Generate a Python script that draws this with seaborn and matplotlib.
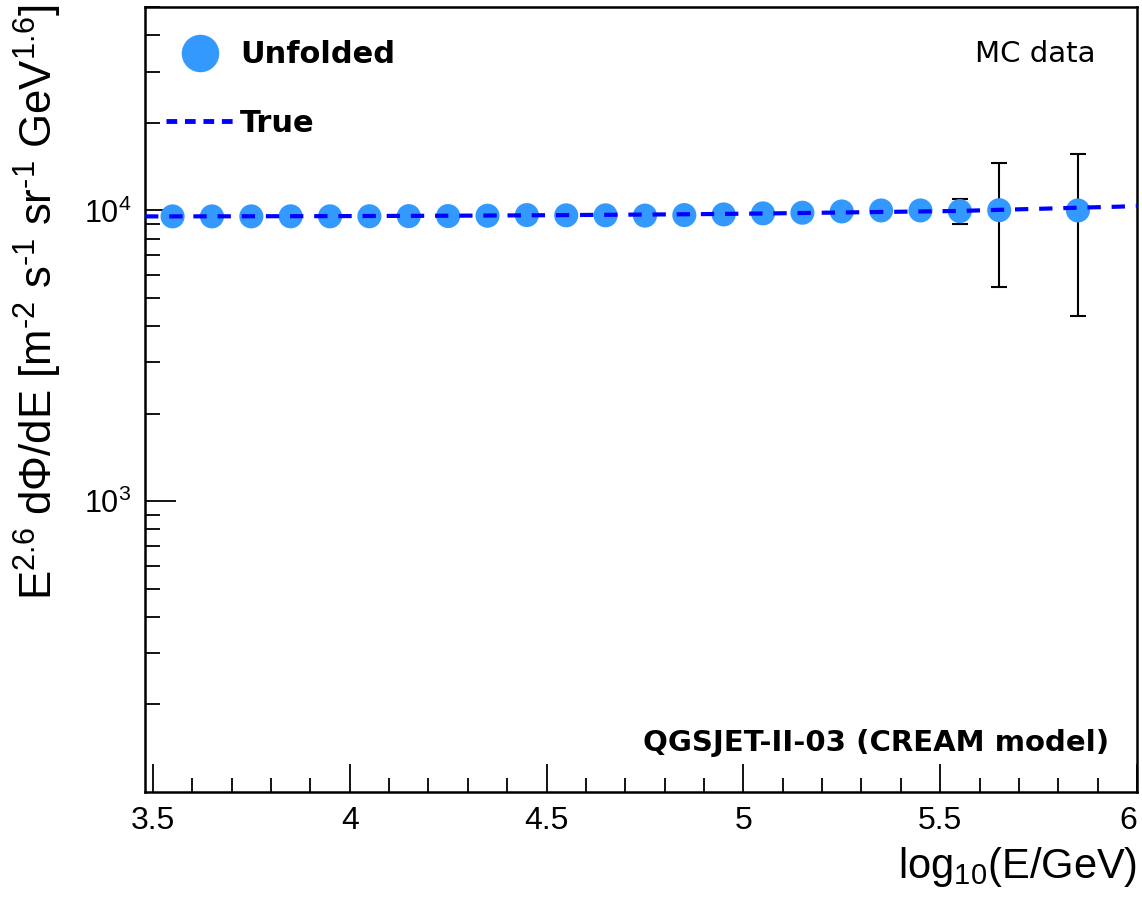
import numpy as np
import pandas as pd
import matplotlib
matplotlib.use("Agg")
import matplotlib.pyplot as plt
from matplotlib.lines import Line2D
from matplotlib.ticker import FixedLocator, NullFormatter, LogLocator
import seaborn as sns

# ---- data ----
unf_x = [3.55, 3.65, 3.75, 3.85, 3.95, 4.05, 4.15, 4.25, 4.35, 4.45, 4.55,
         4.65, 4.75, 4.85, 4.95, 5.05, 5.15, 5.25, 5.35, 5.45, 5.55, 5.65, 5.85]
unf_y = [9540, 9540, 9540, 9545, 9545, 9550, 9560, 9565, 9590, 9640, 9620,
         9620, 9600, 9640, 9690, 9770, 9820, 9920, 10000, 10000, 9950, 10020, 10000]
unf_err = [60, 60, 60, 60, 60, 60, 60, 60, 70, 70, 80,
           80, 90, 90, 100, 120, 150, 200, 260, 350, 990, 4580, 5680]

true_x = [3.48, 3.55, 3.65, 3.75, 3.85, 3.95, 4.05, 4.15, 4.25, 4.35, 4.45, 4.55,
          4.65, 4.75, 4.85, 4.95, 5.05, 5.15, 5.25, 5.35, 5.45, 5.55, 5.65,
          5.75, 5.85, 5.95, 6.0]
true_y = [9540, 9540, 9545, 9550, 9555, 9560, 9570, 9580, 9590, 9605, 9620, 9640,
          9660, 9680, 9700, 9730, 9760, 9800, 9840, 9880, 9920, 9960, 10050,
          10130, 10220, 10300, 10360]

x_ticks = [3.5, 4.0, 4.5, 5.0, 5.5, 6.0]
x_tick_labels = ["3.5", "4", "4.5", "5", "5.5", "6"]
y_ticks = [1e3, 1e4]
y_tick_labels = [r"$10^{3}$", r"$10^{4}$"]

df_unf = pd.DataFrame({"x": unf_x, "y": unf_y, "err": unf_err})
df_true = pd.DataFrame({"x": true_x, "y": true_y})

# ---- style ----
sns.set_style("ticks")
plt.rcParams["font.family"] = ["Liberation Sans", "DejaVu Sans"]
plt.rcParams["mathtext.fontset"] = "custom"
plt.rcParams["mathtext.rm"] = "Liberation Sans"
plt.rcParams["mathtext.it"] = "Liberation Sans"
plt.rcParams["mathtext.sf"] = "Liberation Sans"
for k in ["text.color", "axes.labelcolor", "xtick.color", "ytick.color", "axes.edgecolor"]:
    plt.rcParams[k] = "black"

fig = plt.figure(figsize=(11.42, 9.0), dpi=100)
ax = fig.add_axes([0.127, 0.12, 0.8686, 0.872])

marker_col = "#3399ff"
line_col = "#0000ff"

# True line
sns.lineplot(data=df_true, x="x", y="y", ax=ax, color=line_col, lw=3.0,
             linestyle=(0, (3.2, 2.6)), zorder=3)
# error bars
ax.errorbar(df_unf["x"], df_unf["y"], yerr=df_unf["err"], fmt="none",
            ecolor="black", elinewidth=1.5, capsize=6, capthick=1.5, zorder=2)
# unfolded points
sns.scatterplot(data=df_unf, x="x", y="y", ax=ax, color=marker_col, s=300,
                edgecolor="none", zorder=2.5)

ax.set_yscale("log")
ax.set_xlim(3.48, 6.0)
ax.set_ylim(100, 5e4)

ax.set_xticks(x_ticks)
ax.set_xticklabels(x_tick_labels)
ax.xaxis.set_minor_locator(FixedLocator(np.arange(3.5, 6.001, 0.1)))
ax.set_yticks(y_ticks)
ax.set_yticklabels(y_tick_labels)
ax.yaxis.set_minor_locator(LogLocator(base=10, subs=np.arange(2, 10)))
ax.yaxis.set_minor_formatter(NullFormatter())

ax.tick_params(axis="x", which="major", direction="in", length=20, width=1.3,
               labelsize=23, pad=10, top=False)
ax.tick_params(axis="x", which="minor", direction="in", length=10, width=1.3, top=False)
ax.tick_params(axis="y", which="major", direction="in", length=22, width=1.3,
               labelsize=22, pad=10, right=False)
ax.tick_params(axis="y", which="minor", direction="in", length=11, width=1.3, right=False)
for s in ax.spines.values():
    s.set_linewidth(1.8)
    s.set_visible(True)
# keep the last x tick label inside the figure
ax.get_xticklabels()[-1].set_horizontalalignment("right")

ax.set_xlabel("")
ax.set_ylabel("")
fig.text(0.9956, 0.012, r"log$_{10}$(E/GeV)", ha="right", va="bottom", fontsize=30)
fig.text(0.010, 0.995,
         r"E$^{2.6}$ d$\Phi$/dE [m$^{\text{-}2}$ s$^{\text{-}1}$ sr$^{\text{-}1}$ GeV$^{1.6}$]",
         rotation=90, ha="left", va="top", fontsize=31.5)

# legend
handles = [
    Line2D([], [], marker="o", linestyle="none", markersize=27,
           markerfacecolor=marker_col, markeredgecolor="none", label="Unfolded"),
    Line2D([], [], color=line_col, lw=3.5, linestyle=(0, (2.2, 1.6)), label="True"),
]
ax.legend(handles=handles, loc="upper left", bbox_to_anchor=(0.0, 0.985),
          frameon=False, prop={"family": "DejaVu Sans", "weight": "bold", "size": 22},
          handlelength=2.2, handletextpad=0.2, labelspacing=1.3, borderaxespad=0.3)

ax.text(0.958, 0.94, "MC data", transform=ax.transAxes, ha="right", va="center",
        fontsize=21, family="DejaVu Sans")
ax.text(0.972, 0.063, "QGSJET-II-03 (CREAM model)", transform=ax.transAxes,
        ha="right", va="center", fontsize=21, family="DejaVu Sans", fontweight="bold")

fig.savefig("out.png", dpi=100)
